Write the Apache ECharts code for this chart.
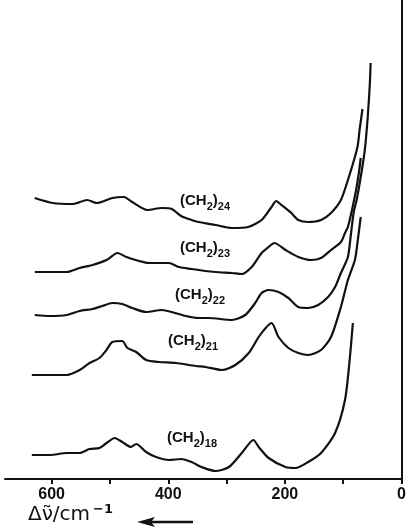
<!DOCTYPE html>
<html><head><meta charset="utf-8">
<script src="https://cdn.jsdelivr.net/npm/echarts@6/dist/echarts.min.js"></script>
<style>html,body{margin:0;padding:0;background:#fff}#c{width:409px;height:528px}</style>
</head><body><div id="c"></div>
<script>
// wavenumber (cm^-1), intensity (arbitrary, offset)
const ch24 = [[629,280],[598,275],[564,274],[539,278],[523,275],[496,280],[476,281],[462,276],[436,268],[411,270],[394,269],[378,262],[360,258],[348,256],[319,253],[291,250],[263,251],[240,258],[223,271],[215,277],[206,273],[189,265],[177,258],[160,256],[138,258],[121,265],[104,278],[92,298],[80,321],[75,333],[72,348],[67,369]];
const ch23 = [[629,206],[603,206],[574,206],[552,210],[530,213],[506,218],[487,225],[472,221],[450,217],[433,215],[411,215],[399,215],[382,211],[360,209],[348,208],[319,206],[291,205],[274,204],[257,211],[240,225],[228,231],[218,235],[199,228],[177,221],[155,218],[138,220],[121,228],[104,236],[97,245],[92,251],[85,268],[78,288],[73,306],[70,320]];
const ch22 = [[629,163],[603,162],[574,163],[552,167],[530,169],[513,172],[496,175],[479,174],[462,170],[438,166],[411,168],[394,166],[370,162],[348,160],[331,160],[291,158],[268,163],[251,175],[240,185],[228,188],[211,186],[194,180],[177,171],[160,170],[143,173],[126,181],[114,191],[104,205],[92,221],[87,243],[82,266],[77,278],[70,301],[63,328],[58,361],[54.5,393],[53,415]];
const ch21 = [[634,103],[603,103],[574,103],[552,108],[535,115],[518,120],[506,128],[496,136],[479,137],[470,130],[455,126],[438,118],[416,116],[387,115],[353,112],[336,111],[308,108],[285,113],[262,125],[245,141],[233,150],[223,155],[211,141],[194,130],[177,125],[160,123],[138,128],[121,141],[104,171],[92,198],[80,218],[75,238],[70,261]];
const ch18 = [[634,23],[603,23],[574,25],[552,25],[535,29],[518,30],[506,35],[492,40],[479,36],[464,31],[455,34],[438,26],[421,21],[399,18],[378,19],[360,16],[343,11],[319,7],[296,11],[274,25],[254,38],[245,31],[228,20],[199,11],[182,10],[160,16],[138,25],[114,45],[97,78],[89,118],[83.5,155]];
const seriesNames = ['(CH2)24','(CH2)23','(CH2)22','(CH2)21','(CH2)18'];
const subscripts = ['24','23','22','21','18'];
const tickValues = [0,100,200,300,400,500,600];
const labelValues = [0,200,400,600];

const datasets = [ch24, ch23, ch22, ch21, ch18];
const labelPos = [[180,193],[180,240],[175,287],[168,333],[167,430]];

const chart = echarts.init(document.getElementById('c'));
const ink = '#111';
const fam = 'Liberation Sans, Arial, sans-serif';
const graphics = subscripts.map((s, i) => ({
  type: 'text', left: labelPos[i][0], top: labelPos[i][1],
  style: {
    text: '{m|(CH}{s|2}{m|)}{s|' + s + '}',
    rich: {
      m: {fontSize: 15, fontWeight: 'bold', fontFamily: fam, fill: ink, lineHeight: 15, verticalAlign: 'top'},
      s: {fontSize: 11, fontWeight: 'bold', fontFamily: fam, fill: ink, lineHeight: 11, verticalAlign: 'top', padding: [8,0,0,0]}
    }
  }
}));
graphics.push({
  type: 'text', left: 28, top: 503,
  style: {
    text: '{a|Δν̃/cm}{b|−1}',
    rich: {
      a: {fontSize: 20, fontFamily: 'DejaVu Sans, sans-serif', fill: ink, lineHeight: 24, verticalAlign: 'top', padding: [2,0,0,0]},
      b: {fontSize: 13, fontWeight: 'bold', fontFamily: 'DejaVu Sans, sans-serif', fill: ink, lineHeight: 13, verticalAlign: 'top', padding: [0,0,0,3]}
    }
  }
});
graphics.push({type: 'line', shape: {x1: 148, y1: 522, x2: 193, y2: 522}, style: {stroke: ink, lineWidth: 2.5}});
graphics.push({type: 'polygon', shape: {points: [[137,522],[155,517],[151,522],[155,527]]}, style: {fill: ink}});

chart.setOption({
  animation: false,
  backgroundColor: '#fff',
  grid: {left: 5, right: 5, top: 0, bottom: 49},
  xAxis: {
    type: 'value', inverse: true, min: 0, max: 680,
    splitLine: {show: false},
    axisLine: {onZero: false, lineStyle: {color: ink, width: 2}},
    axisTick: {length: 5, customValues: tickValues, lineStyle: {color: ink, width: 2}},
    axisLabel: {customValues: labelValues, fontSize: 16, fontWeight: 'bold', color: ink, margin: 8, fontFamily: fam}
  },
  yAxis: {
    type: 'value', min: -1, max: 478, position: 'right',
    splitLine: {show: false},
    axisLine: {show: true, onZero: false, lineStyle: {color: ink, width: 2}},
    axisTick: {show: false}, axisLabel: {show: false}
  },
  series: datasets.map((d, i) => ({
    name: seriesNames[i], type: 'line', data: d, showSymbol: false, symbol: 'none',
    smooth: 0.25,
    lineStyle: {color: ink, width: 2.2}, z: 3
  })),
  graphic: graphics
});
</script>
</body></html>
